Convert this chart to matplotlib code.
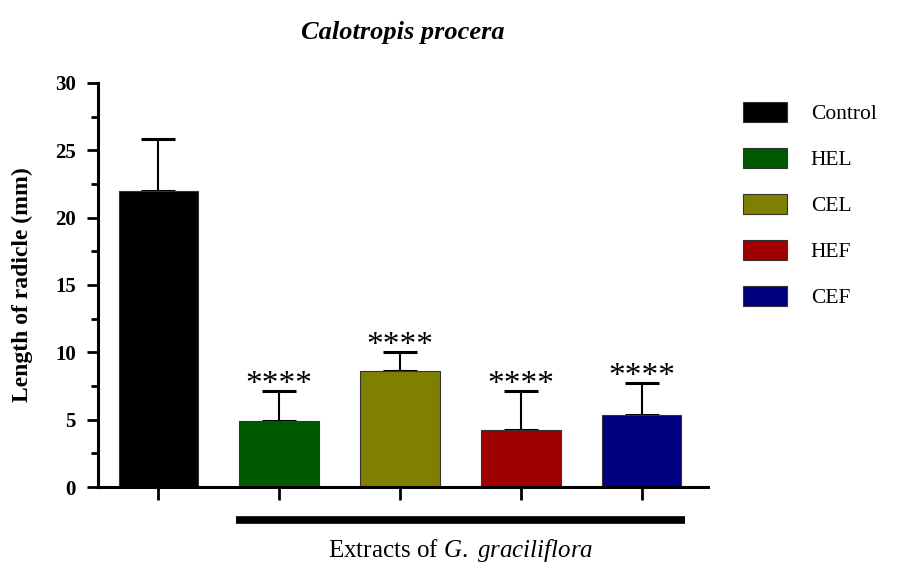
import matplotlib.pyplot as plt
from matplotlib.patches import Patch

groups = ['Control', 'HEL', 'CEL', 'HEF', 'CEF']
means = [22.0, 4.9, 8.6, 4.2, 5.35]
sd = [3.85, 2.25, 1.45, 2.9, 2.35]
colors = ['#000000', '#005a00', '#808000', '#a00000', '#000080']
stars = ['', '****', '****', '****', '****']

plt.rcParams['font.family'] = ['Liberation Serif', 'DejaVu Serif']
plt.rcParams['mathtext.fontset'] = 'custom'
plt.rcParams['mathtext.rm'] = 'Liberation Serif'
plt.rcParams['mathtext.it'] = 'Liberation Serif:italic'

fig = plt.figure(figsize=(9.16, 5.68), dpi=100)
ax = fig.add_axes([0.107, 0.1426, 0.666, 0.7113])

x = list(range(len(groups)))
ax.bar(x, means, width=0.66, color=colors, edgecolor='#333333', linewidth=0.8, zorder=2)
ax.errorbar(x, means, yerr=[[0] * len(sd), sd], fmt='none', ecolor='black',
            elinewidth=1.5, capsize=12, capthick=2.2, zorder=1)

for xi, m, s, st in zip(x, means, sd, stars):
    if st:
        ax.text(xi, m + s - 0.15, st, ha='center', va='baseline', fontsize=24)

ax.set_xlim(-0.5, 4.55)
ax.set_ylim(0, 30)
ax.set_yticks([0, 5, 10, 15, 20, 25, 30])
ax.set_yticks([2.5, 7.5, 12.5, 17.5, 22.5, 27.5], minor=True)
ax.set_xticks(x)
ax.set_xticklabels([])
for lab in ax.get_yticklabels():
    lab.set_fontweight('bold')
ax.tick_params(axis='y', labelsize=15, width=2, length=8, direction='out', pad=8)
ax.tick_params(axis='y', which='minor', width=2, length=5)
ax.tick_params(axis='x', width=2, length=9)
for side in ['top', 'right']:
    ax.spines[side].set_visible(False)
for side in ['left', 'bottom']:
    ax.spines[side].set_linewidth(2.2)

ax.set_ylabel('Length of radicle (mm)', fontsize=17, fontweight='bold', labelpad=16)
ax.set_title('Calotropis procera', fontsize=19, fontweight='bold', style='italic', pad=32)

# trait sous les extraits
ax.plot([0.64, 4.36], [-2.45, -2.45], color='black', linewidth=5.5,
        clip_on=False, solid_capstyle='butt')
ax.text(2.5, -4.7, 'Extracts of $\\it{G.\\ graciliflora}$', ha='center', va='center',
        fontsize=18)

handles = [Patch(facecolor=c, edgecolor='#333333', linewidth=0.8) for c in colors]
fig.legend(handles, groups, loc='upper left', bbox_to_anchor=(743 / 916, 1 - 102 / 568),
           frameon=False, fontsize=15.5, handlelength=2.05, handleheight=1.05,
           labelspacing=1.1, handletextpad=1.1, borderpad=0, borderaxespad=0)

fig.savefig('out.png', dpi=100)
